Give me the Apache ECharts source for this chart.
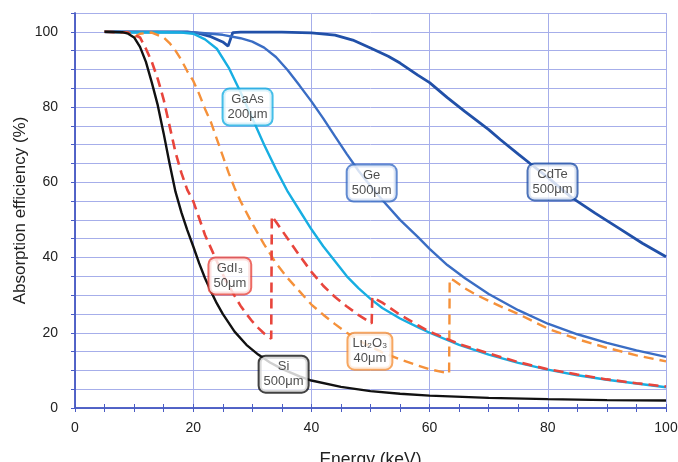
<!DOCTYPE html>
<html><head><meta charset="utf-8">
<script src="https://cdn.jsdelivr.net/npm/echarts@6/dist/echarts.min.js"></script>
<style>html,body{margin:0;padding:0;background:#fff}#c{width:678px;height:462px}</style>
</head><body><div id="c"></div>
<script>
// Energy (keV), absorption efficiency (%)
var siData = [[5,100],[8,99.9],[9,99.5],[10,98.5],[11,96],[12,92],[13,86.5],[14,80.5],[15,73],[16,65],[17,57.5],[18,52],[19,47.3],[20,43],[21,38.5],[22,34.5],[23,31],[24,27.8],[25,25],[27,20.3],[29,16.8],[31,14.2],[33,12.1],[35,10.4],[38,8.4],[40,7.3],[45,5.6],[50,4.5],[55,3.8],[60,3.3],[70,2.7],[80,2.35],[90,2.1],[100,2.0]];
var gdi3Data = [[5,100],[9,99.8],[10,99.2],[11,98.5],[12,95.5],[13,92],[14,87.5],[15,82],[16,75],[17,68],[18,62.5],[19,58],[20,55],[21,50.5],[22,46],[23,42.5],[24,39],[25,35.5],[26,32.5],[27,29.8],[28,27.2],[29,25],[30,23],[31,21.3],[32,19.8],[33.2,18.4],[33.3,51],[34,49.5],[36,45],[38,40.5],[40,36.2],[42,32.5],[44,29.5],[46,27],[48,24.7],[50.2,22.5],[50.3,29.5],[52,28],[55,24.8],[58,22],[60,20.3],[65,17],[70,14.5],[75,12.2],[80,10.3],[85,8.9],[90,7.6],[95,6.6],[100,5.7]];
var lu2o3Data = [[5,100],[9,99.8],[10,98.5],[11,99.5],[13,99.8],[15,98.5],[16,97],[17,95],[18,92.5],[19,89.5],[20,87],[21,83.5],[22,79.5],[23,76],[24,71.5],[25,67],[26,62.5],[27,58.5],[28,55],[30,49],[32,43.5],[34,38.5],[36,34.5],[38,31],[40,27.5],[42,24.8],[44,22.3],[46,20],[48,18],[50,16.3],[52,14.8],[55,12.9],[58,11.3],[60,10.3],[63.3,9.2],[63.4,34.3],[64,34],[66,31.8],[68,30],[70,28.5],[72,27],[75,25],[80,21.1],[85,18.3],[90,16],[95,14],[100,12.4]];
var gaasData = [[5,100],[10,99.8],[15,99.9],[18,99.8],[20,99.5],[22,98],[24,95.5],[26,90.5],[28,84],[30,77],[32,70],[34,63.5],[36,57.5],[38,52.5],[40,47.5],[42,43],[44,39],[46,35],[48,31.8],[50,29],[52,26.6],[55,23.8],[58,21.5],[60,20],[65,16.8],[70,14.2],[75,12],[80,10.2],[85,8.7],[90,7.5],[95,6.5],[100,5.5]];
var geData = [[5,100],[20,99.9],[25,99.2],[28,98.3],[30,97.4],[32,95.8],[34,93.3],[36,89.8],[38,85.7],[40,81.5],[42,77],[44,72.2],[46,67.5],[48,63],[50,59],[52,55.3],[55,50],[58,45.5],[60,42.3],[63,38],[66,34.5],[70,30.3],[75,26],[80,22.4],[85,19.6],[90,17.3],[95,15.3],[100,13.6]];
var cdteData = [[5,100],[19,100],[21,99.6],[23,98.7],[25,97.3],[25.9,96.2],[26.7,99.8],[28,99.9],[35,99.9],[40,99.7],[44,99.1],[47,97.8],[50,95.7],[53,93.5],[55,91.7],[58,88.5],[60,86.5],[63,82.5],[66,78.8],[70,74],[72,71.3],[75,67.5],[77,65],[80,61.3],[84,56],[88,51.8],[92,47.8],[96,43.8],[100,40.2]];
var labelNames = ['GaAs\n200μm','Ge\n500μm','CdTe\n500μm','GdI₃\n50μm','Lu₂O₃\n40μm','Si\n500μm'];
var labelPos = [[29.2,80],[50.2,59.8],[80.8,60.1],[26.2,35.1],[49.9,15.1],[35.3,9.0]];
var xTicks = [0,20,40,60,80,100];
var yTicks = [0,20,40,60,80,100];

var colors = {si:'#111111', gdi3:'#e8453c', lu2o3:'#f5913a', gaas:'#17aee2', ge:'#3a6dc4', cdte:'#2150a8'};
var labelColors = [colors.gaas, colors.ge, colors.cdte, colors.gdi3, colors.lu2o3, colors.si];
var axisCol = '#4a5cc4', gridCol = '#a6aeea';

function line(name, data, color, dashed, width) {
  return {name:name, type:'line', data:data, showSymbol:false, symbol:'none', animation:false, z:3,
    lineStyle:{color:color, width:width||2.5, type: dashed ? [10,6] : 'solid'}};
}
var labelSeries = {
  type:'scatter', symbolSize:0, animation:false, z:10,
  data: labelPos.map(function(p,i){
    return {value:p, label:{show:true, position:'inside', formatter:labelNames[i],
      color:'#222', fontFamily:'Liberation Sans, Arial', fontSize:13, lineHeight:15,
      backgroundColor:'#fff', borderColor:labelColors[i], borderWidth:2, borderRadius:6, padding:[3,4,2,4], align:'center'}};
  })
};
var chart = echarts.init(document.getElementById('c'), null, {renderer:'canvas'});
chart.setOption({
  backgroundColor:'#fff',
  textStyle:{fontFamily:'Liberation Sans, Arial'},
  grid:{left:75, right:12, top:13, bottom:54, show:false, containLabel:false, outerBoundsMode:'none'},
  xAxis:[{type:'value', min:0, max:100, interval:20, position:'bottom',
      name:'Energy (keV)', nameLocation:'middle', nameGap:43, nameTextStyle:{fontSize:17.5, color:'#222'},
      axisLine:{lineStyle:{color:axisCol, width:1.5}},
      axisTick:{inside:true, length:4, lineStyle:{color:axisCol}},
      minorTick:{show:true, splitNumber:4, length:4, lineStyle:{color:axisCol}},
      axisLabel:{fontSize:14, color:'#222', margin:13, formatter:function(v){return xTicks.indexOf(v)>=0?String(v):'';}},
      splitLine:{show:true, lineStyle:{color:gridCol, width:1}}},
    {type:'value', min:0, max:100, interval:20, position:'top',
      axisLine:{show:true, lineStyle:{color:axisCol, width:1.5}},
      axisTick:{inside:true, length:4, lineStyle:{color:axisCol}},
      minorTick:{show:true, splitNumber:4, length:4, lineStyle:{color:axisCol}},
      axisLabel:{show:false}, splitLine:{show:false}}],
  yAxis:[{type:'value', min:0, max:105, interval:5, position:'left',
      name:'Absorption efficiency (%)', nameLocation:'middle', nameGap:46, nameMoveOverlap:false, nameTextStyle:{fontSize:17, color:'#222'},
      axisLine:{show:true, lineStyle:{color:axisCol, width:1.5}},
      axisTick:{show:false},
      axisLabel:{fontSize:14, color:'#222', margin:17, formatter:function(v){return yTicks.indexOf(v)>=0?String(v):'';}},
      splitLine:{show:true, lineStyle:{color:gridCol, width:1}}},
    {type:'value', min:0, max:105, interval:5, position:'right',
      axisLine:{show:true, lineStyle:{color:axisCol, width:1.5}},
      axisTick:{show:true, inside:true, length:4, lineStyle:{color:axisCol}},
      axisLabel:{show:false}, splitLine:{show:false}}],
  series:[
    line('CdTe', cdteData, colors.cdte, false, 2.8),
    line('Ge', geData, colors.ge, false, 2.4),
    line('GaAs', gaasData, colors.gaas, false, 2.4),
    line('Lu2O3', lu2o3Data, colors.lu2o3, true, 2.4),
    line('GdI3', gdi3Data, colors.gdi3, true, 2.6),
    line('Si', siData, colors.si, false, 2.4),
    labelSeries
  ]
});
</script></body></html>
